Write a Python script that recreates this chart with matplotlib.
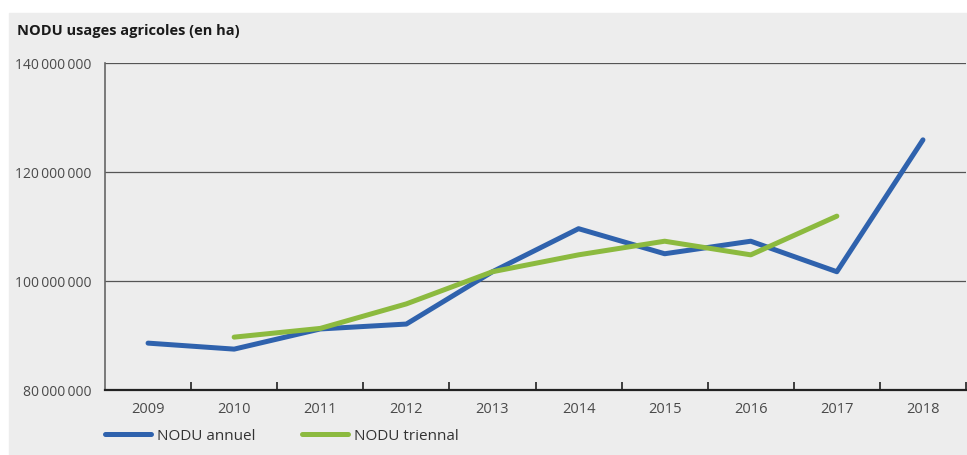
import matplotlib.pyplot as plt
import matplotlib.patches as mpatches
from matplotlib.lines import Line2D

plt.rcParams['font.family'] = ['Open Sans', 'DejaVu Sans']

# Data
years = ["2009", "2010", "2011", "2012", "2013", "2014", "2015", "2016", "2017", "2018"]
annuel = [88.6e6, 87.5e6, 91.2e6, 92.1e6, 101.7e6, 109.6e6, 105.0e6, 107.3e6, 101.7e6, 125.9e6]
triennal_years = ["2010", "2011", "2012", "2013", "2014", "2015", "2016", "2017"]
triennal = [89.7e6, 91.3e6, 95.8e6, 101.7e6, 104.8e6, 107.3e6, 104.8e6, 111.9e6]
y_ticks = [80e6, 100e6, 120e6, 140e6]

bg = "#ededed"
blue = "#2f62ad"
green = "#8cba3f"
text_col = "#4a4a4a"

fig = plt.figure(figsize=(9.67, 4.56), dpi=100, facecolor="white")
fig.patches.append(mpatches.Rectangle((9 / 967, 0), 1, 1 - 14 / 456,
                                      transform=fig.transFigure, color=bg, zorder=-10))

ax = fig.add_axes([105 / 967, 1 - 391 / 456, 861 / 967, 327 / 456])
ax.set_facecolor(bg)

x_annuel = [years.index(y) for y in years]
x_tri = [years.index(y) for y in triennal_years]
ax.plot(x_annuel, annuel, color=blue, lw=3.6, solid_capstyle="round", zorder=3)
ax.plot(x_tri, triennal, color=green, lw=3.6, solid_capstyle="round", zorder=3)

ax.set_xlim(-0.5, len(years) - 0.5)
ax.set_ylim(80e6, 140e6)
ax.set_xticks(range(len(years)))
ax.set_xticklabels(years)
ax.set_xticks([i + 0.5 for i in range(len(years))], minor=True)
ax.tick_params(axis="x", which="major", length=0, pad=8, labelsize=10.5, labelcolor=text_col)
ax.tick_params(axis="x", which="minor", direction="in", length=6, width=1.2, color="#222222")

ax.set_yticks(y_ticks)
ax.set_yticklabels([f"{v:,.0f}".replace(",", "\u2009") for v in y_ticks])
ax.tick_params(axis="y", length=0, pad=10, labelsize=10, labelcolor=text_col)

ax.grid(True, axis="y", color="#555555", lw=0.9)
ax.set_axisbelow(True)
for s in ["top", "right"]:
    ax.spines[s].set_visible(False)
ax.spines["left"].set_color("#666666")
ax.spines["left"].set_linewidth(1.2)
ax.spines["bottom"].set_color("#222222")
ax.spines["bottom"].set_linewidth(1.6)

fig.text(17 / 967, 1 - 31 / 456, "NODU usages agricoles (en ha)", fontsize=10.5,
         fontweight="bold", color="#1a1a1a", va="center", ha="left")

handles = [Line2D([], [], color=blue, lw=3.6, solid_capstyle="round"),
           Line2D([], [], color=green, lw=3.6, solid_capstyle="round")]
fig.legend(handles, ["NODU annuel", "NODU triennal"], ncol=2, frameon=False,
           loc="center left", bbox_to_anchor=(91 / 967, 1 - 437 / 456),
           fontsize=11, handlelength=3.0, handletextpad=0.45, columnspacing=3.0,
           labelcolor="#333333")

fig.savefig("out.png", dpi=100, facecolor=fig.get_facecolor())
